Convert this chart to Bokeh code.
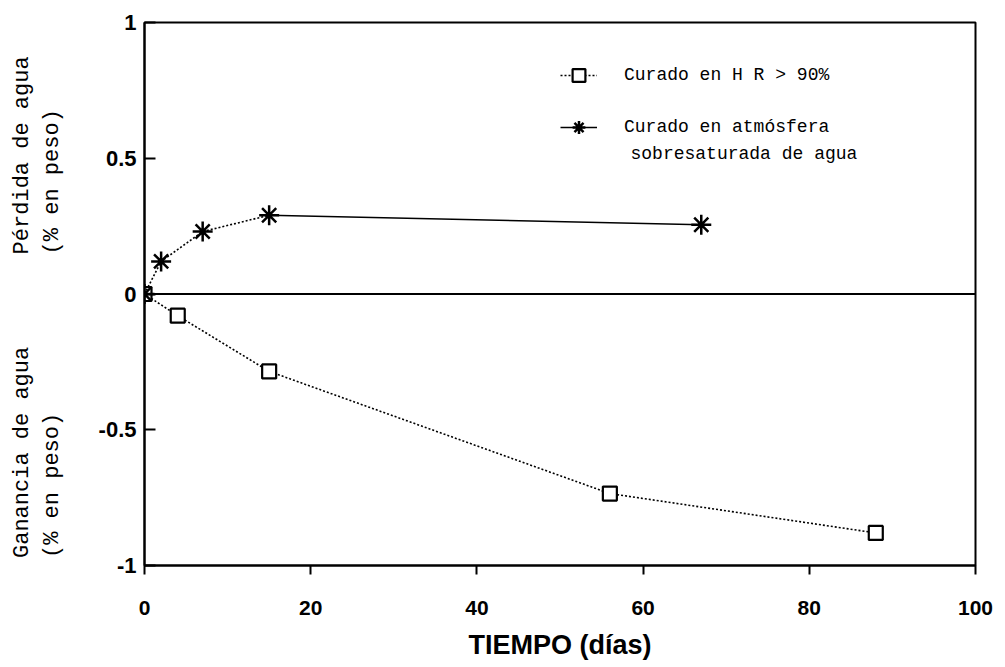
from bokeh.plotting import figure
from bokeh.models import (ColumnDataSource, Span, Label, Legend, LegendItem,
                          FixedTicker, CustomJSTickFormatter, Range1d)
from bokeh.embed import file_html
from bokeh.resources import INLINE

# ---- data ----
star_days = [0, 2, 7, 15, 67]
star_values = [0.0, 0.12, 0.23, 0.29, 0.255]
square_days = [0, 4, 15, 56, 88]
square_values = [0.0, -0.08, -0.285, -0.735, -0.88]
x_ticks = [0, 20, 40, 60, 80, 100]
y_ticks = [-1, -0.5, 0, 0.5, 1]
legend_square = "Curado en H R > 90%"
legend_star_1 = "Curado en atmósfera"
legend_star_2 = "sobresaturada de agua"
ylabel_top = ["Pérdida de agua", "(% en peso)"]
ylabel_bottom = ["Ganancia de agua", "(% en peso)"]
xlabel = "TIEMPO (días)"

MONO = "Liberation Mono"
SANS = "Liberation Sans"
NB = "\u00a0"

p = figure(width=1000, height=662, output_backend="svg", toolbar_location=None,
           x_range=Range1d(0, 100), y_range=Range1d(-1, 1),
           min_border_left=144, min_border_right=25, min_border_top=22,
           min_border_bottom=92)
p.grid.visible = False
p.outline_line_color = "black"
p.outline_line_width = 2
p.background_fill_color = "white"
p.border_fill_color = "white"

# axes
xa = p.xaxis[0]
xa.ticker = FixedTicker(ticks=x_ticks)
xa.axis_line_width = 2
xa.major_tick_line_width = 2
xa.major_tick_out = 9
xa.major_tick_in = 0
xa.minor_tick_line_color = None
xa.major_label_text_font = SANS
xa.major_label_text_font_style = "bold"
xa.major_label_text_font_size = "21px"
xa.major_label_text_color = "black"
xa.major_label_standoff = 26
xa.axis_label = xlabel
xa.axis_label_text_font = SANS
xa.axis_label_text_font_style = "bold"
xa.axis_label_text_font_size = "27px"
xa.axis_label_text_color = "black"
xa.axis_label_standoff = 12

ya = p.yaxis[0]
ya.ticker = FixedTicker(ticks=y_ticks)
ya.formatter = CustomJSTickFormatter(code="return tick.toString()")
ya.axis_line_width = 2
ya.major_tick_line_width = 2
ya.major_tick_in = 11
ya.major_tick_out = 0
ya.minor_tick_line_color = None
ya.major_label_text_font = SANS
ya.major_label_text_font_style = "bold"
ya.major_label_text_font_size = "22px"
ya.major_label_text_color = "black"
ya.major_label_standoff = 8

# rotated y descriptions: lower text first (reads bottom to top), spaced with
# non-breaking spaces in the monospace font so the upper text starts at the right height
line1 = ylabel_bottom[0] + NB * 7 + ylabel_top[0]
line2 = ylabel_bottom[1] + NB * 12 + ylabel_top[1]
width_chars = max(len(line1), len(line2)) + 2
line1 = line1 + NB * (width_chars - len(line1))
line2 = line2 + NB * (width_chars - len(line2))
ya.axis_label = line1 + "\n" + line2
ya.axis_label_text_font = MONO
ya.axis_label_text_font_style = "normal"
ya.axis_label_text_font_size = "22px"
ya.axis_label_text_color = "black"
ya.axis_label_standoff = 31

# zero line
p.add_layout(Span(location=0, dimension="width", line_color="black", line_width=2))

# series
sq_src = ColumnDataSource(dict(x=square_days, y=square_values))
sq_line = p.line("x", "y", source=sq_src, line_color="black", line_width=1.6, line_dash="2 2")
sq_mk = p.scatter("x", "y", source=sq_src, marker="square", size=14, fill_color="white",
                  line_color="black", line_width=2.2)

st_early = ColumnDataSource(dict(x=star_days[:4], y=star_values[:4]))
st_late = ColumnDataSource(dict(x=star_days[3:], y=star_values[3:]))
p.line("x", "y", source=st_early, line_color="black", line_width=1.6, line_dash="2 2")
st_line = p.line("x", "y", source=st_late, line_color="black", line_width=1.5)
st_src = ColumnDataSource(dict(x=star_days, y=star_values))
st_mk = p.scatter("x", "y", source=st_src, marker="asterisk", size=20, line_color="black",
                  line_width=2.5)

legend = Legend(items=[
    LegendItem(label=legend_square, renderers=[sq_line, sq_mk]),
    LegendItem(label=legend_star_1, renderers=[st_line, st_mk]),
], location=(416, 422), padding=0, margin=0, spacing=20,
    glyph_width=37, glyph_height=32, label_height=32, label_standoff=27,
    label_text_font=MONO, label_text_font_size="18px", label_text_color="black",
    border_line_color=None, background_fill_alpha=0)
p.add_layout(legend, "center")

p.add_layout(Label(x=486, y=412, x_units="screen", y_units="screen", text=legend_star_2,
                   text_font=MONO, text_font_size="18px", text_color="black",
                   text_baseline="middle", text_align="left"))

open("out.html", "w").write(file_html(p, INLINE))
